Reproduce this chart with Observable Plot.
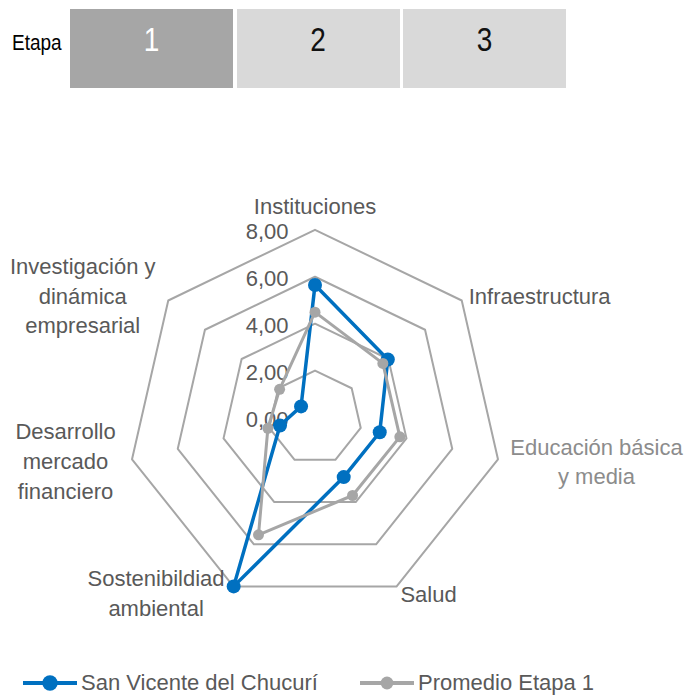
<!DOCTYPE html>
<html>
<head>
<meta charset="utf-8">
<script src="https://cdn.jsdelivr.net/npm/d3@7"></script>
<script src="https://cdn.jsdelivr.net/npm/@observablehq/plot@0.6"></script>
<style>
  html, body { margin: 0; padding: 0; background: #fff; }
  body { width: 684px; height: 696px; position: relative; overflow: hidden;
         font-family: "Liberation Sans", Arial, sans-serif; }
  #banner { position: absolute; left: 0; top: 0; width: 684px; height: 100px; }
  #etapa { position: absolute; left: 12px; top: 33px; font-size: 19px; line-height: 19px;
           color: #000; transform: scaleY(1.17); }
  #stages { position: absolute; left: 70px; top: 9px; display: flex; gap: 3.5px; }
  .stage { width: 163px; height: 79px; position: relative; background: #D9D9D9; }
  .stage.active { background: #A6A6A6; }
  .stage span { position: absolute; left: 0; right: 0; top: 17.4px; text-align: center;
                font-size: 28px; line-height: 28px; color: #111; transform: scaleY(1.2); }
  .stage.active span { color: #fff; }
  #chart { position: absolute; left: 0; top: 100px; }
  #legend { position: absolute; left: 0; top: 670px; width: 684px; height: 26px; }
  .item { position: absolute; top: 0; height: 26px; display: flex; align-items: center;
          font-size: 22px; color: #595959; white-space: nowrap; }
  .item svg { display: block; margin-right: 4px; }
</style>
</head>
<body>
<div id="banner"><div id="etapa"></div><div id="stages"></div></div>
<div id="chart"></div>
<div id="legend"></div>
<script>
// ---- data ----
const stageLabel = "Etapa";
const stages = ["1", "2", "3"];
const activeStage = "1";

const categories = [
  "Instituciones",
  "Infraestructura",
  "Educación básica y media",
  "Salud",
  "Sostenibildiad ambiental",
  "Desarrollo mercado financiero",
  "Investigación y dinámica empresarial"
];
const categoryLines = [
  "Instituciones",
  "Infraestructura",
  "Educación básica\ny media",
  "Salud",
  "Sostenibildiad\nambiental",
  "Desarrollo\nmercado\nfinanciero",
  "Investigación y\ndinámica\nempresarial"
];
const sanVicente = [5.65, 3.97, 2.83, 2.82, 7.99, 1.53, 0.76];
const promedio   = [4.49, 3.70, 3.71, 3.69, 5.55, 2.06, 1.93];
const seriesNames = ["San Vicente del Chucurí", "Promedio Etapa 1"];

const gridLevels = [2, 4, 6, 8];
const tickValues = [0, 2, 4, 6, 8];
const tickLabels = ["0,00", "2,00", "4,00", "6,00", "8,00"];

// ---- styling / layout ----
const seriesColors = ["#0070C0", "#A6A6A6"];
const seriesWidths = [3.5, 3];
const seriesRadii = [7, 5.5];
const textColor = "#595959";
const labelLayout = [
  {dx: 0,     dy: -25,  anchor: "middle", fill: textColor},
  {dx: 7,     dy: -6,   anchor: "start",  fill: textColor},
  {dx: 98.5,  dy: 0.7,  anchor: "middle", fill: "#8c8c8c"},
  {dx: 4,     dy: 6,    anchor: "start",  fill: textColor},
  {dx: -77.5, dy: 5,    anchor: "middle", fill: textColor},
  {dx: -66.5, dy: 0.5,  anchor: "middle", fill: textColor},
  {dx: -85.5, dy: -6.5, anchor: "middle", fill: textColor}
];
const maxValue = d3.max(gridLevels);

// ---- banner ----
document.getElementById("etapa").textContent = stageLabel;
const stagesDiv = document.getElementById("stages");
stages.forEach(s => {
  const d = document.createElement("div");
  d.className = "stage" + (s === activeStage ? " active" : "");
  const sp = document.createElement("span");
  sp.textContent = s;
  d.appendChild(sp);
  stagesDiv.appendChild(d);
});

// ---- radar geometry ----
const n = categories.length;
const ang = i => i * 2 * Math.PI / n;
const px = (v, i) => v * Math.sin(ang(i));
const py = (v, i) => v * Math.cos(ang(i));

const grid = gridLevels.flatMap(level => categories.map((c, i) => ({level, i})));
const rows = (vals, s) => vals.map((v, i) => ({series: s, i, v}));
const seriesData = [rows(sanVicente, seriesNames[0]), rows(promedio, seriesNames[1])];

const W = 684, H = 550;
const cx = 314.5, cy = 317, unit = 23.46;

const marks = [
  Plot.line(grid, {
    x: d => px(d.level, d.i), y: d => py(d.level, d.i), z: "level",
    curve: "linear-closed", stroke: "#A6A6A6", strokeWidth: 2
  }),
  Plot.text(tickValues, {
    x: d => 0, y: d => d, text: (d, i) => tickLabels[i],
    textAnchor: "end", dx: -26.5, dy: 2, fontSize: 22, fill: textColor
  }),
  ...categoryLines.map((lab, i) => Plot.text([lab], {
    x: d => px(maxValue, i), y: d => py(maxValue, i), text: d => d,
    textAnchor: labelLayout[i].anchor, lineAnchor: "middle", lineHeight: 1.36,
    dx: labelLayout[i].dx, dy: labelLayout[i].dy, fontSize: 22, fill: labelLayout[i].fill
  })),
  ...seriesData.flatMap((data, k) => [
    Plot.line(data, {
      x: d => px(d.v, d.i), y: d => py(d.v, d.i),
      curve: "linear-closed", stroke: seriesColors[k], strokeWidth: seriesWidths[k],
      strokeLinejoin: "round"
    }),
    Plot.dot(data, {
      x: d => px(d.v, d.i), y: d => py(d.v, d.i),
      r: seriesRadii[k], fill: seriesColors[k], stroke: "none"
    })
  ])
];

const chart = Plot.plot({
  width: W, height: H,
  marginTop: 0, marginRight: 0, marginBottom: 0, marginLeft: 0,
  x: {domain: [-cx / unit, (W - cx) / unit], axis: null},
  y: {domain: [(cy - H) / unit, cy / unit], axis: null},
  style: {fontFamily: "'Liberation Sans', Arial, sans-serif", background: "#fff", overflow: "visible"},
  marks
});
document.getElementById("chart").appendChild(chart);

// ---- legend ----
const legendPos = [23, 360];
const legend = document.getElementById("legend");
seriesNames.forEach((name, k) => {
  const item = document.createElement("div");
  item.className = "item";
  item.style.left = legendPos[k] + "px";
  const r = k === 0 ? 7.7 : 6.4;
  item.innerHTML = `<svg width="54" height="26"><line x1="0" x2="54" y1="13" y2="13" stroke="${seriesColors[k]}" stroke-width="4"/><circle cx="27" cy="13" r="${r}" fill="${seriesColors[k]}"/></svg>`;
  const t = document.createElement("span");
  t.textContent = name;
  item.appendChild(t);
  legend.appendChild(item);
});
</script>
</body>
</html>
